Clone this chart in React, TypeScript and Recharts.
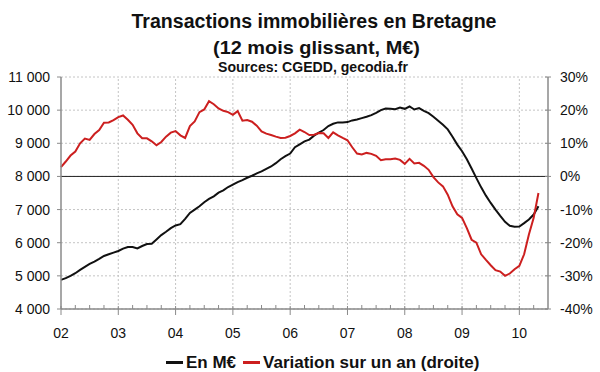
import { CartesianGrid, Line, LineChart, ReferenceLine, XAxis, YAxis } from "recharts"

// monthly, Jan 2002 -> May 2010
const enMEur = [
  4880, 4930, 5000, 5080, 5180, 5270, 5360, 5430, 5510, 5600, 5650, 5700,
  5750, 5820, 5870, 5870, 5830, 5900, 5960, 5970, 6100, 6230, 6330, 6440,
  6520, 6560, 6720, 6900, 7000, 7100, 7220, 7320, 7400, 7510, 7580, 7680,
  7750, 7830, 7890, 7960, 8020, 8090, 8150, 8230, 8300, 8400, 8520, 8610,
  8690, 8880, 8970, 9060, 9110, 9230, 9320, 9400, 9520, 9590, 9630, 9630,
  9640, 9690, 9720, 9760, 9800, 9850, 9920, 10000, 10050, 10040, 10030, 10080,
  10040, 10110, 10020, 10060, 9980, 9910, 9800, 9680, 9560, 9420, 9200, 8960,
  8760, 8520, 8240, 7950, 7670, 7420, 7200, 7000, 6810, 6630, 6510, 6480,
  6490, 6590, 6700, 6850, 7100,
]

const variationPct = [
  2.8, 4.5, 6.3, 7.5, 10.0, 11.4, 11.0, 12.8, 14.0, 16.2, 16.3, 17.0,
  17.9, 18.4, 17.1, 15.6, 13.0, 11.5, 11.5, 10.6, 9.4, 10.4, 12.0, 13.2,
  13.7, 12.4, 11.6, 15.2, 16.6, 19.4, 20.2, 22.7, 21.8, 20.5, 19.8, 19.4,
  18.6, 19.7, 16.8, 17.0, 16.5, 15.3, 13.6, 12.9, 12.5, 12.0, 11.6, 11.7,
  12.2, 13.0, 14.1, 13.4, 12.5, 12.6, 13.1, 13.0, 11.6, 13.3, 12.4, 11.6,
  10.9, 8.8, 6.9, 6.6, 7.1, 6.8, 6.2, 4.9, 5.2, 5.2, 5.4, 5.0,
  3.8, 5.3, 3.9, 4.1, 3.2, 2.0, -0.2, -1.8, -3.0, -5.5, -9.0, -11.4,
  -12.5, -15.6, -19.1, -20.0, -23.5, -25.2, -26.8, -28.3, -28.7, -30.0, -29.3, -28.0,
  -27.0, -23.5, -17.5, -12.5, -5.0,
]

const yearLabels = ["02", "03", "04", "05", "06", "07", "08", "09", "10"]
const leftTicks = [4000, 5000, 6000, 7000, 8000, 9000, 10000, 11000]
const rightTicks = [-40, -30, -20, -10, 0, 10, 20, 30]

const rows = enMEur.map((v, i) => ({ m: i, v, p: variationPct[i] }))
const yearTicks = yearLabels.map((_, i) => i * 12)
const quarterTicks = Array.from({ length: 34 }, (_, i) => i * 3)

const FONT = "'Liberation Sans', Arial, sans-serif"
const AXIS = "#8a8a8a"
const RED = "#cc1f1f"

const fmtThousands = (v: number) =>
  v >= 1000 ? `${Math.floor(v / 1000)} ${String(v % 1000).padStart(3, "0")}` : String(v)

function XTick({ x, y, payload }: any) {
  const v = payload.value
  if (v % 12 !== 0) {
    return <line x1={x} x2={x} y1={y - 4} y2={y} stroke={AXIS} strokeWidth={1} />
  }
  return (
    <g>
      <line x1={x} x2={x} y1={y - 3} y2={y + 6} stroke={AXIS} strokeWidth={1} />
      <text x={x} y={y + 29} textAnchor="middle" fontSize={14} fontFamily={FONT} fill="#111">
        {yearLabels[v / 12]}
      </text>
    </g>
  )
}

function LeftTick({ x, y, payload }: any) {
  return (
    <g>
      <line x1={x - 4} x2={x} y1={y} y2={y} stroke={AXIS} strokeWidth={1} />
      <text x={x - 11} y={y + 5} textAnchor="end" fontSize={14} fontFamily={FONT} fill="#111">
        {fmtThousands(payload.value)}
      </text>
    </g>
  )
}

function RightTick({ x, y, payload }: any) {
  return (
    <g>
      <line x1={x - 3} x2={x + 3} y1={y} y2={y} stroke={AXIS} strokeWidth={1} />
      <text x={x + 12} y={y + 5} textAnchor="start" fontSize={14} fontFamily={FONT} fill="#111">
        {`${payload.value}%`}
      </text>
    </g>
  )
}

function Titles() {
  return (
    <svg width={600} height={80} style={{ position: "absolute", left: 0, top: 0, pointerEvents: "none" }}>
      <g fontFamily={FONT} fontWeight="bold" fill="#111" textAnchor="middle">
        <text x={314} y={28} fontSize={20} textLength={365} lengthAdjust="spacingAndGlyphs">
          Transactions immobilières en Bretagne
        </text>
        <text x={316.5} y={53.5} fontSize={19} textLength={207} lengthAdjust="spacingAndGlyphs">
          (12 mois glissant, M€)
        </text>
        <text x={313} y={72} fontSize={14} textLength={190} lengthAdjust="spacingAndGlyphs">
          Sources: CGEDD, gecodia.fr
        </text>
      </g>
    </svg>
  )
}

function ChartLegend() {
  const item = (color: string, label: string) => (
    <span style={{ display: "inline-flex", alignItems: "center", marginRight: 7 }}>
      <span style={{ display: "inline-block", width: 17, height: 3, background: color, marginRight: 3 }} />
      {label}
    </span>
  )
  return (
    <div
      style={{
        position: "absolute",
        left: 166,
        top: 349,
        fontFamily: FONT,
        fontWeight: "bold",
        fontSize: 17,
        color: "#111",
        whiteSpace: "nowrap",
        lineHeight: "20px",
      }}
    >
      {item("#111", "En M€")}
      {item(RED, "Variation sur un an (droite)")}
    </div>
  )
}

export default function App() {
  return (
    <div style={{ position: "absolute", left: 0, top: 0, width: 600, height: 372, background: "#fff" }}>
      <LineChart width={600} height={372} data={rows} margin={{ top: 77, right: 0, bottom: 0, left: 0 }}>
        <CartesianGrid vertical={false} stroke="#c4c4c4" strokeDasharray="2 2" />
        <XAxis
          dataKey="m"
          type="number"
          domain={[0, 102]}
          ticks={quarterTicks}
          interval={0}
          height={63}
          tickSize={0}
          tickMargin={0}
          tick={<XTick />}
          stroke={AXIS}
          strokeWidth={1.5}
        />
        <YAxis
          domain={[4000, 11000]}
          ticks={leftTicks}
          width={61}
          tickSize={0}
          tickMargin={0}
          tick={<LeftTick />}
          stroke={AXIS}
          strokeWidth={1.5}
        />
        <YAxis
          yAxisId="r"
          orientation="right"
          domain={[-40, 30]}
          ticks={rightTicks}
          width={52}
          tickSize={0}
          tickMargin={0}
          tick={<RightTick />}
          stroke={AXIS}
          strokeWidth={1.5}
        />
        {yearTicks.slice(1).map((t) => (
          <ReferenceLine key={t} x={t} stroke="#c4c4c4" strokeDasharray="2 2" />
        ))}
        <ReferenceLine y={8000} stroke="#222" strokeWidth={1} />
        <Line
          type="linear"
          dataKey="v"
          stroke="#111"
          strokeWidth={2}
          dot={false}
          isAnimationActive={false}
        />
        <Line
          type="linear"
          dataKey="p"
          yAxisId="r"
          stroke={RED}
          strokeWidth={2}
          dot={false}
          isAnimationActive={false}
        />
      </LineChart>
      <Titles />
      <ChartLegend />
    </div>
  )
}
